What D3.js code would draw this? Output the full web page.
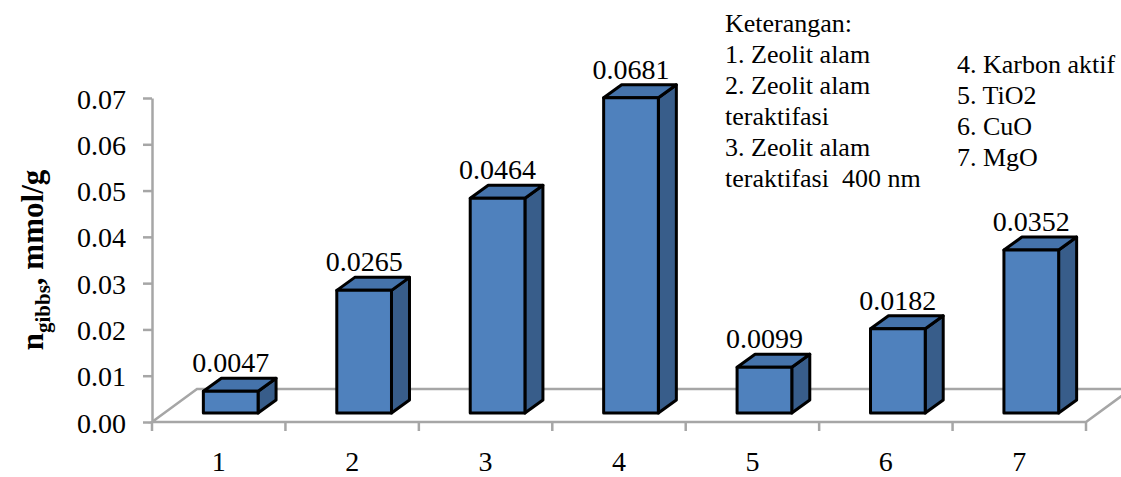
<!DOCTYPE html>
<html>
<head>
<meta charset="utf-8">
<script src="https://cdn.jsdelivr.net/npm/d3@7"></script>
<style>
  html, body { margin: 0; padding: 0; background: #fff; }
  svg text { font-family: "Liberation Serif", "Times New Roman", Times, serif; }
</style>
</head>
<body>
<svg id="chart" width="1121" height="477"></svg>
<script>
// Sample numbers on the category axis
const categories = ["1", "2", "3", "4", "5", "6", "7"];
// n_gibbs for each sample (mmol/g)
const values = [0.0047, 0.0265, 0.0464, 0.0681, 0.0099, 0.0182, 0.0352];
// Printed value labels
const valueLabels = ["0.0047", "0.0265", "0.0464", "0.0681", "0.0099", "0.0182", "0.0352"];
// Value axis ticks
const yTicks = [0, 0.01, 0.02, 0.03, 0.04, 0.05, 0.06, 0.07];
// Key text, two columns
const keyLeft = ["Keterangan:", "1. Zeolit alam", "2. Zeolit alam", "teraktifasi", "3. Zeolit alam", "teraktifasi\u00a0 400 nm"];
const keyRight = ["4. Karbon aktif", "5. TiO2", "6. CuO", "7. MgO"];

const FONT = "'Liberation Serif', 'Times New Roman', Times, serif";
const svg = d3.select("#chart");

const x = d3.scaleBand().domain(categories).range([152, 1086])
  .paddingInner(0.59).paddingOuter(0.295);
const y = d3.scaleLinear().domain([0, 0.07]).range([422, 98]);

// floor depth and bar placement inside it
const floorDX = 45, floorDY = -33;
const barOX = 12, barOY = -9;     // bars sit part-way back on the floor
const barDX = 18, barDY = -13;    // depth of each box

const gray = "#a6a6a6";

// Floor parallelogram
const [x0, x1] = x.range();
const y0 = y(0);
svg.append("path")
  .attr("d", `M${x0},${y0} L${x1},${y0} L${x1 + floorDX},${y0 + floorDY} L${x0 + floorDX},${y0 + floorDY} Z`)
  .attr("fill", "none").attr("stroke", gray).attr("stroke-width", 2.5);

// Category boundary ticks under the floor edge
const bounds = d3.range(categories.length + 1).map(i => x0 + i * x.step());
svg.append("g").selectAll("line").data(bounds).join("line")
  .attr("x1", d => d).attr("x2", d => d)
  .attr("y1", y0).attr("y2", y0 + 9)
  .attr("stroke", gray).attr("stroke-width", 2.5);

// Category labels
svg.append("g").selectAll("text").data(categories).join("text")
  .attr("x", d => x(d) + x.bandwidth() / 2)
  .attr("y", 471)
  .attr("text-anchor", "middle")
  .attr("font-family", FONT)
  .attr("font-size", 28)
  .text(d => d);

// Value axis
const yAxis = svg.append("g").attr("transform", `translate(${x0},0)`)
  .call(d3.axisLeft(y).tickValues(yTicks).tickFormat(d3.format(".2f")).tickSize(9).tickSizeOuter(0).tickPadding(17));
yAxis.attr("font-family", FONT);
yAxis.select(".domain").attr("stroke", gray).attr("stroke-width", 2.5);
yAxis.selectAll(".tick line").attr("stroke", gray).attr("stroke-width", 2.5);
yAxis.selectAll(".tick text")
  .attr("font-size", 28)
  .attr("font-family", FONT)
  .attr("fill", "#000")
  .attr("dy", "0.36em");

// Axis title, with subscript
const title = svg.append("text")
  .attr("transform", "translate(43,260) rotate(-90)")
  .attr("text-anchor", "middle")
  .attr("font-family", FONT)
  .attr("font-weight", "bold")
  .attr("font-size", 31);
title.append("tspan").text("n");
title.append("tspan").attr("font-size", 21).attr("dy", 7).text("gibbs");
title.append("tspan").attr("dy", -7).text(", mmol/g");

// 3D boxes
const data = categories.map((c, i) => ({ c, v: values[i], label: valueLabels[i] }));
const bars = svg.append("g").selectAll("g").data(data).join("g");

const geom = d => {
  const left = x(d.c) + barOX;
  const right = left + x.bandwidth();
  const top = y(d.v) + barOY;
  const bottom = y(0) + barOY;
  return { left, right, top, bottom };
};

bars.append("path") // side face
  .attr("d", d => {
    const g = geom(d);
    return `M${g.right},${g.top} L${g.right + barDX},${g.top + barDY} L${g.right + barDX},${g.bottom + barDY} L${g.right},${g.bottom} Z`;
  })
  .attr("fill", "#385d8a").attr("stroke", "#000").attr("stroke-width", 3).attr("stroke-linejoin", "round");

bars.append("path") // top face
  .attr("d", d => {
    const g = geom(d);
    return `M${g.left},${g.top} L${g.left + barDX},${g.top + barDY} L${g.right + barDX},${g.top + barDY} L${g.right},${g.top} Z`;
  })
  .attr("fill", "#4573ab").attr("stroke", "#000").attr("stroke-width", 3).attr("stroke-linejoin", "round");

bars.append("rect") // front face
  .attr("x", d => geom(d).left)
  .attr("y", d => geom(d).top)
  .attr("width", x.bandwidth())
  .attr("height", d => geom(d).bottom - geom(d).top)
  .attr("fill", "#4f81bd").attr("stroke", "#000").attr("stroke-width", 3).attr("stroke-linejoin", "round");

// Value labels above each box
bars.append("text")
  .attr("x", d => { const g = geom(d); return (g.left + g.right) / 2; })
  .attr("y", d => geom(d).top + barDY - 6)
  .attr("text-anchor", "middle")
  .attr("font-family", FONT)
  .attr("font-size", 28)
  .text(d => d.label);

// Key
svg.append("g").selectAll("text").data(keyLeft).join("text")
  .attr("x", 725).attr("y", (d, i) => 32 + i * 31)
  .attr("font-family", FONT)
  .attr("font-size", 26)
  .text(d => d);
svg.append("g").selectAll("text").data(keyRight).join("text")
  .attr("x", 957).attr("y", (d, i) => 73 + i * 31)
  .attr("font-family", FONT)
  .attr("font-size", 26)
  .text(d => d);
</script>
</body>
</html>
